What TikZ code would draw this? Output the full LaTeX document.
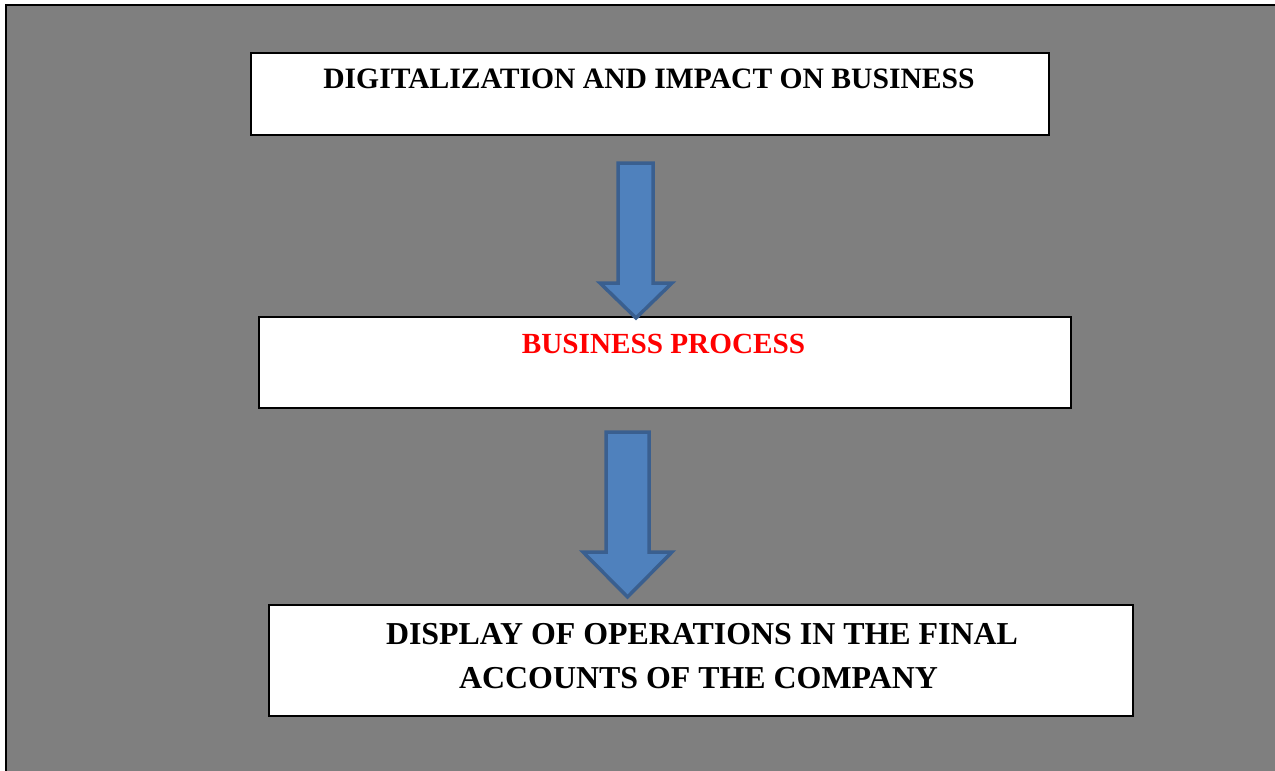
\documentclass[tikz,border=0pt]{standalone}
\usepackage{fontspec}
\setmainfont{Liberation Serif}
\definecolor{bggray}{HTML}{7F7F7F}
\definecolor{arrfill}{HTML}{4F81BD}
\definecolor{arrline}{HTML}{3A5F8F}
\begin{document}
\begin{tikzpicture}[x=1pt,y=-1pt,
  boxstyle/.style={draw=black,fill=white,line width=1.6pt,rectangle,inner sep=0pt,anchor=north west},
  label/.style={anchor=base,inner sep=0pt,font=\bfseries\fontsize{29.6}{44}\selectfont},
  biglabel/.style={label,font=\bfseries\fontsize{31.9}{44}\selectfont},
  blockarrow/.style={fill=arrfill,draw=arrline,line width=3.5pt,line join=miter}]
\useasboundingbox (0,0) rectangle (1275,771);
\fill[white] (0,0) rectangle (1275,771);
\fill[bggray] (6,5) rectangle (1275,771);
\draw[line width=2pt] (6,780) -- (6,5) -- (1280,5);
% boxes
\node[boxstyle,minimum width=798pt,minimum height=82pt] (b1) at (250,52) {};
\node[boxstyle,minimum width=812pt,minimum height=91pt] (b2) at (258,316) {};
\node[boxstyle,minimum width=864pt,minimum height=111pt] (b3) at (268,604) {};
% texts
\node[label] (t1) at (649,88.5) {DIGITALIZATION AND IMPACT ON BUSINESS};
\node[label,text=red,font=\bfseries\fontsize{29.2}{44}\selectfont] (t2) at (663.5,353.5) {BUSINESS PROCESS};
\node[biglabel] (t3a) at (702,644) {DISPLAY OF OPERATIONS IN THE FINAL};
\node[biglabel] (t3b) at (698.5,688) {ACCOUNTS OF THE COMPANY};
% block arrows
\draw[blockarrow] (618,163) -- (653,163) -- (653,283) -- (672,283) -- (636,318) -- (600,283) -- (618,283) -- cycle;
\draw[blockarrow] (606,432) -- (649,432) -- (649,552) -- (672,552) -- (627.5,597) -- (583,552) -- (606,552) -- cycle;
\end{tikzpicture}
\end{document}
